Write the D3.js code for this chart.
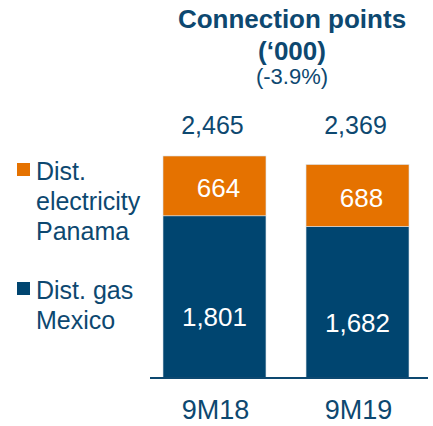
<!DOCTYPE html>
<html><head><meta charset="utf-8">
<script src="https://cdn.jsdelivr.net/npm/d3@7/dist/d3.min.js"></script>
<style>body{margin:0;background:#fff}svg{display:block;font-family:Arial,"Liberation Sans",sans-serif}</style>
</head><body><svg id="c" width="433" height="426"></svg>
<script>
const categories = ["9M18", "9M19"];
const gasMexico = [1801, 1682];
const elecPanama = [664, 688];
const totals = ["2,465", "2,369"];
const gasLabels = ["1,801", "1,682"];
const elecLabels = ["664", "688"];
const seriesNames = [["Dist.", "electricity", "Panama"], ["Dist. gas", "Mexico"]];
const titleLines = ["Connection points", "(\u2018000)"];
const subtitle = "(-3.9%)";

const navy = "#0d4870", blue = "#004570", orange = "#e57200";
const svg = d3.select("#c");
const x = d3.scaleBand().domain(categories).range([163, 409]).paddingInner(0.28).paddingOuter(0);
const y = d3.scaleLinear().domain([0, 2465]).range([378, 156]);

const data = categories.map((c, i) => ({cat: c, gas: gasMexico[i], elec: elecPanama[i]}));
const stack = d3.stack().keys(["gas", "elec"])(data);
const colors = {gas: blue, elec: orange};

stack.forEach(s => {
  svg.append("g").selectAll("rect").data(s).join("rect")
    .attr("x", d => x(d.data.cat)).attr("width", x.bandwidth())
    .attr("y", d => y(d[1])).attr("height", d => y(d[0]) - y(d[1]))
    .attr("fill", colors[s.key]).attr("stroke", "#d8e2ea").attr("stroke-width", 0.6);
});

// axis baseline
svg.append("line").attr("x1", 150).attr("x2", 428).attr("y1", y(0)).attr("y2", y(0))
  .attr("stroke", navy).attr("stroke-width", 2);

// segment labels
stack.forEach((s, si) => {
  const labels = si === 0 ? gasLabels : elecLabels;
  svg.append("g").selectAll("text").data(s).join("text")
    .attr("x", d => x(d.data.cat) + x.bandwidth() / 2 + (si === 1 ? 4 : 0))
    .attr("y", d => (y(d[0]) + y(d[1])) / 2 + (si === 0 ? 20 : 2))
    .attr("dy", "0.36em").attr("text-anchor", "middle")
    .attr("fill", "#fff").attr("font-size", 26)
    .text((d, i) => labels[i]);
});

// totals
svg.append("g").selectAll("text").data(categories).join("text")
  .attr("x", d => x(d) + x.bandwidth() / 2 - 2).attr("y", 134)
  .attr("text-anchor", "middle").attr("fill", navy).attr("font-size", 25)
  .text((d, i) => totals[i]);

// category labels
svg.append("g").selectAll("text").data(categories).join("text")
  .attr("x", d => x(d) + x.bandwidth() / 2 + 1).attr("y", 419)
  .attr("text-anchor", "middle").attr("fill", navy).attr("font-size", 27)
  .text(d => d);

// title
svg.append("text").attr("x", 292).attr("y", 28).attr("text-anchor", "middle")
  .attr("fill", navy).attr("font-size", 26).attr("font-weight", "bold").text(titleLines[0]);
svg.append("text").attr("x", 292).attr("y", 60).attr("text-anchor", "middle")
  .attr("fill", navy).attr("font-size", 26).attr("font-weight", "bold").text(titleLines[1]);
svg.append("text").attr("x", 292).attr("y", 84).attr("text-anchor", "middle")
  .attr("fill", navy).attr("font-size", 22).text(subtitle);

// legend
const legend = [{c: orange, y: 180, lines: seriesNames[0]}, {c: blue, y: 299, lines: seriesNames[1]}];
legend.forEach(l => {
  svg.append("rect").attr("x", 17).attr("y", l.y - 17).attr("width", 13).attr("height", 13).attr("fill", l.c);
  const t = svg.append("text").attr("x", 36).attr("y", l.y).attr("fill", navy).attr("font-size", 25);
  l.lines.forEach((ln, i) => t.append("tspan").attr("x", 36).attr("dy", i ? 30 : 0).text(ln));
});
</script></body></html>
